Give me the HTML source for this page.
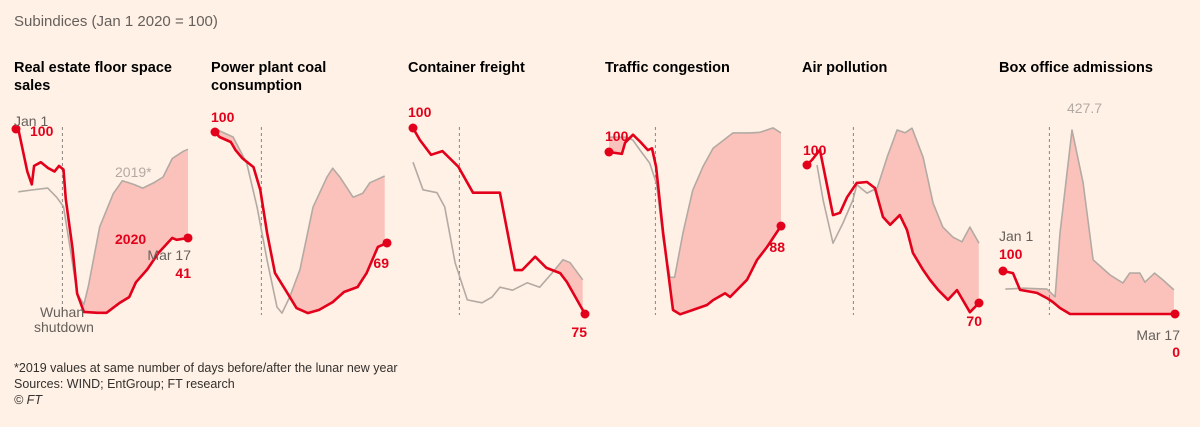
<!DOCTYPE html>
<html><head><meta charset="utf-8">
<style>
html,body{margin:0;padding:0;background:#fff1e5;}
body{width:1200px;height:422px;overflow:hidden;font-family:"Liberation Sans",sans-serif;}
svg text{font-family:"Liberation Sans",sans-serif;}
</style></head>
<body>
<svg id="chart" width="1200" height="422" viewBox="0 0 1200 422" xmlns="http://www.w3.org/2000/svg">
<rect width="1200" height="422" fill="#fff1e5"/>
<text x="14" y="26" font-size="15" fill="#66605c">Subindices (Jan 1 2020 = 100)</text>
<g font-size="14.5" font-weight="bold" fill="#000">
<text x="14" y="72">Real estate floor space</text>
<text x="14" y="90">sales</text>
<text x="211" y="72">Power plant coal</text>
<text x="211" y="90">consumption</text>
<text x="408" y="72">Container freight</text>
<text x="605" y="72">Traffic congestion</text>
<text x="802" y="72">Air pollution</text>
<text x="999" y="72">Box office admissions</text>
</g>
<g id="panels"></g>
<g font-size="12.5" fill="#33302e">
<text x="14" y="372">*2019 values at same number of days before/after the lunar new year</text>
<text x="14" y="388">Sources: WIND; EntGroup; FT research</text>
<text x="14" y="404" font-style="italic">© FT</text>
</g>
</svg>
<script>
// day index since Jan 1 2020 (0..76 = Mar 17)
const p1RedDays=[0,1,5,7,8,11,14,17,19,21,22,25,27,30,36,40,46,50,53,58,63,69,71,76];
const p1RedVals=[100,100,77,70,80,82,79,77,80,78,62,35,11,1,0.5,0.5,6,9,17,24,33,41,40,41];
const p1GrayDays=[1,7,14,18,21,24,27,30,32,37,43,47,52,56,61,65,69,74,76];
const p1GrayVals=[66,67,68,63,58,35,11,5,15,47,65,72,70,68,71,74,84,88,89];

const p2RedDays=[0,2,7,9,12,17,20,23,26.5,32,36,41,46,52,57,63,67,72,76];
const p2RedVals=[100,98.6,97.2,95,92.7,90.2,83.8,71.8,60.6,55,50.8,49.4,50.3,52.5,55.3,56.7,60.6,67.9,69];
const p2GrayDays=[1,8,14,18.6,23,27.4,29.6,33,37.5,43.3,49.5,52,55.2,61,65.3,68.4,75];
const p2GrayVals=[100.6,98.6,91.3,79,64.2,51.1,49.4,53.9,61.5,79,87.4,89.9,87.4,81.8,82.9,85.8,87.7];

const p3RedDays=[0,3,8,13,20,26.5,38.4,45,48.2,54,59,65,68,76];
const p3RedVals=[100,98.4,96.4,96.9,94.8,91.3,91.3,80.9,80.9,82.7,81.2,80.5,79.3,75];
const p3GrayDays=[0,4.4,10.6,14,18.6,24,30.5,35,38.4,44,50.4,56,61.4,66.3,69.4,75];
const p3GrayVals=[95.4,91.7,91.3,89.4,81.9,76.9,76.5,77.3,78.6,78.2,79.2,78.6,80.5,82.3,81.9,79.6];

const p4RedDays=[0,5.7,7.1,10.6,13.7,17.2,19,20.8,23.9,28.3,31.4,37,43.3,46,51.3,53.5,61,65.4,69.8,76];
const p4RedVals=[100,99.7,101.5,102.8,101.7,100.3,100.6,97.6,86.9,74.4,73.7,74.4,75.2,76,77.1,76.5,79.3,82.5,84.6,88];
const p4GrayDays=[0,8,10.6,13.7,18,21,24,27,29,32.7,37,41.5,46,54.8,62.3,66.7,72.5,76];
const p4GrayVals=[102.4,102.4,101.9,100.3,98.2,94.9,85.7,79.7,79.7,86.9,93.8,97.6,100.6,103.1,103.1,103.2,103.9,103.1];

const p5RedDays=[0,2.2,5.7,11.5,14.6,17.7,22,26.5,30,33.6,36.7,41,44.2,46.8,51.3,54.4,58,62.3,66.3,72,76];
const p5RedVals=[100,101.1,103.3,89.1,89.6,93,96.1,96.3,95,88.7,87,89.1,85.9,80.9,77.2,75,72.8,70.7,72.8,68,70];
const p5GrayDays=[4.4,7.1,11.5,15.9,20.3,22,26.5,31,35.4,39.8,43.3,46.4,51.3,55.7,60,64.5,68.5,72,76];
const p5GrayVals=[100,92.4,83,87.4,92.4,95.7,93.9,95,101.7,107.6,107,108,101.7,91.7,86.5,84.3,83.3,86.5,83];

const p6RedDays=[0,4.4,7.5,15,19.4,22,25.2,29.6,76];
const p6RedVals=[100,95,56,49,37,28,14,0,0];
const p6GrayDays=[1,9,19.4,23,25.2,30.5,35.4,39.8,47.3,53,56,60.5,62.7,67,70.7,75.5];
const p6GrayVals=[58,60,58,40,188,427.7,305,126,91,72,95,95,74,95,79,56];

const panels=[
 {name:'real-estate',x0:16,y100:129,k:1.847,red:[p1RedDays,p1RedVals],gray:[p1GrayDays,p1GrayVals]},
 {name:'power-coal',x0:215,y100:132,k:3.58,red:[p2RedDays,p2RedVals],gray:[p2GrayDays,p2GrayVals]},
 {name:'container-freight',x0:413,y100:128,k:7.44,red:[p3RedDays,p3RedVals],gray:[p3GrayDays,p3GrayVals]},
 {name:'traffic',x0:609,y100:152,k:6.17,red:[p4RedDays,p4RedVals],gray:[p4GrayDays,p4GrayVals]},
 {name:'air-pollution',x0:807,y100:165,k:4.6,red:[p5RedDays,p5RedVals],gray:[p5GrayDays,p5GrayVals]},
 {name:'box-office',x0:1003,y100:271,k:0.43,red:[p6RedDays,p6RedVals],gray:[p6GrayDays,p6GrayVals]}
];
const NS='http://www.w3.org/2000/svg';
const root=document.getElementById('panels');
const W=172, LASTDAY=76;
function mk(tag,attrs,parent){const e=document.createElementNS(NS,tag);for(const a in attrs)e.setAttribute(a,attrs[a]);parent.appendChild(e);return e;}
function interp(ds,vs,d){if(d<=ds[0])return vs[0];for(let i=1;i<ds.length;i++){if(d<=ds[i]){const t=(d-ds[i-1])/(ds[i]-ds[i-1]);return vs[i-1]+t*(vs[i]-vs[i-1]);}}return vs[vs.length-1];}
panels.forEach(p=>{
 const xs=d=>p.x0+d*W/LASTDAY;
 const ys=v=>p.y100+(100-v)*p.k;
 const g=mk('g',{},root);
 
 
 // fill where 2019 above 2020
 const [rd,rv]=p.red,[gd,gv]=p.gray;
 const s=Math.max(rd[0],gd[0]),e=Math.min(rd[rd.length-1],gd[gd.length-1]);
 let top=[],bot=[];
 for(let d=s;d<=e+1e-6;d+=0.25){const r=interp(rd,rv,d),q=interp(gd,gv,d);top.push([xs(d),ys(Math.max(r,q))]);bot.push([xs(d),ys(r)]);}
 const pts=top.concat(bot.reverse()).map(a=>a[0].toFixed(1)+','+a[1].toFixed(1)).join(' ');
 const area=mk('polygon',{points:pts,fill:'#fbc2bb'},g);
 
 
 // dashed lockdown line
 const dl=mk('line',{x1:xs(20.5),x2:xs(20.5),y1:127,y2:315,stroke:'#8a8580','stroke-width':1,'stroke-dasharray':'3,3'},g);
 
 
 const gl=mk('polyline',{points:gd.map((d,i)=>xs(d).toFixed(1)+','+ys(gv[i]).toFixed(1)).join(' '),fill:'none',stroke:'#b3aaa3','stroke-width':1.6,'stroke-linejoin':'round'},g);
 
 
 const rl=mk('polyline',{points:rd.map((d,i)=>xs(d).toFixed(1)+','+ys(rv[i]).toFixed(1)).join(' '),fill:'none',stroke:'#e3001b','stroke-width':2.6,'stroke-linejoin':'round'},g);
 
 
 const c1=mk('circle',{cx:xs(rd[0]),cy:ys(rv[0]),r:4.5,fill:'#e3001b'},g);
 
 
 const c2=mk('circle',{cx:xs(rd[rd.length-1]),cy:ys(rv[rv.length-1]),r:4.5,fill:'#e3001b'},g);
 
 
});
const labels=[
 ['label-jan1-p1',14,126,'Jan 1','#66605c','normal','start'],
 ['label-100-p1',30,136,'100','#e3001b','bold','start'],
 ['label-2019',115,177,'2019*','#b3aaa3','normal','start'],
 ['label-2020',115,244,'2020','#e3001b','bold','start'],
 ['label-mar17-p1',191,260,'Mar 17','#66605c','normal','end'],
 ['label-41',191,278,'41','#e3001b','bold','end'],
 ['label-wuhan',40,317,'Wuhan','#66605c','normal','start'],
 ['label-shutdown',34,332,'shutdown','#66605c','normal','start'],
 ['label-100-p2',211,122,'100','#e3001b','bold','start'],
 ['label-69',389,268,'69','#e3001b','bold','end'],
 ['label-100-p3',408,117,'100','#e3001b','bold','start'],
 ['label-75',587,337,'75','#e3001b','bold','end'],
 ['label-100-p4',605,141,'100','#e3001b','bold','start'],
 ['label-88',785,252,'88','#e3001b','bold','end'],
 ['label-100-p5',803,155,'100','#e3001b','bold','start'],
 ['label-70',982,326,'70','#e3001b','bold','end'],
 ['label-427',1067,113,'427.7','#b3aaa3','normal','start'],
 ['label-jan1-p6',999,241,'Jan 1','#66605c','normal','start'],
 ['label-100-p6',999,259,'100','#e3001b','bold','start'],
 ['label-mar17-p6',1180,340,'Mar 17','#66605c','normal','end'],
 ['label-0',1180,357,'0','#e3001b','bold','end']
];
const lg=mk('g',{},root);


labels.forEach(l=>{
 const t=mk('text',{x:l[1],y:l[2],fill:l[4],'font-weight':l[5],'text-anchor':l[6],'font-size':14},lg);
 t.textContent=l[3];
 
 
});
</script>
</body></html>
